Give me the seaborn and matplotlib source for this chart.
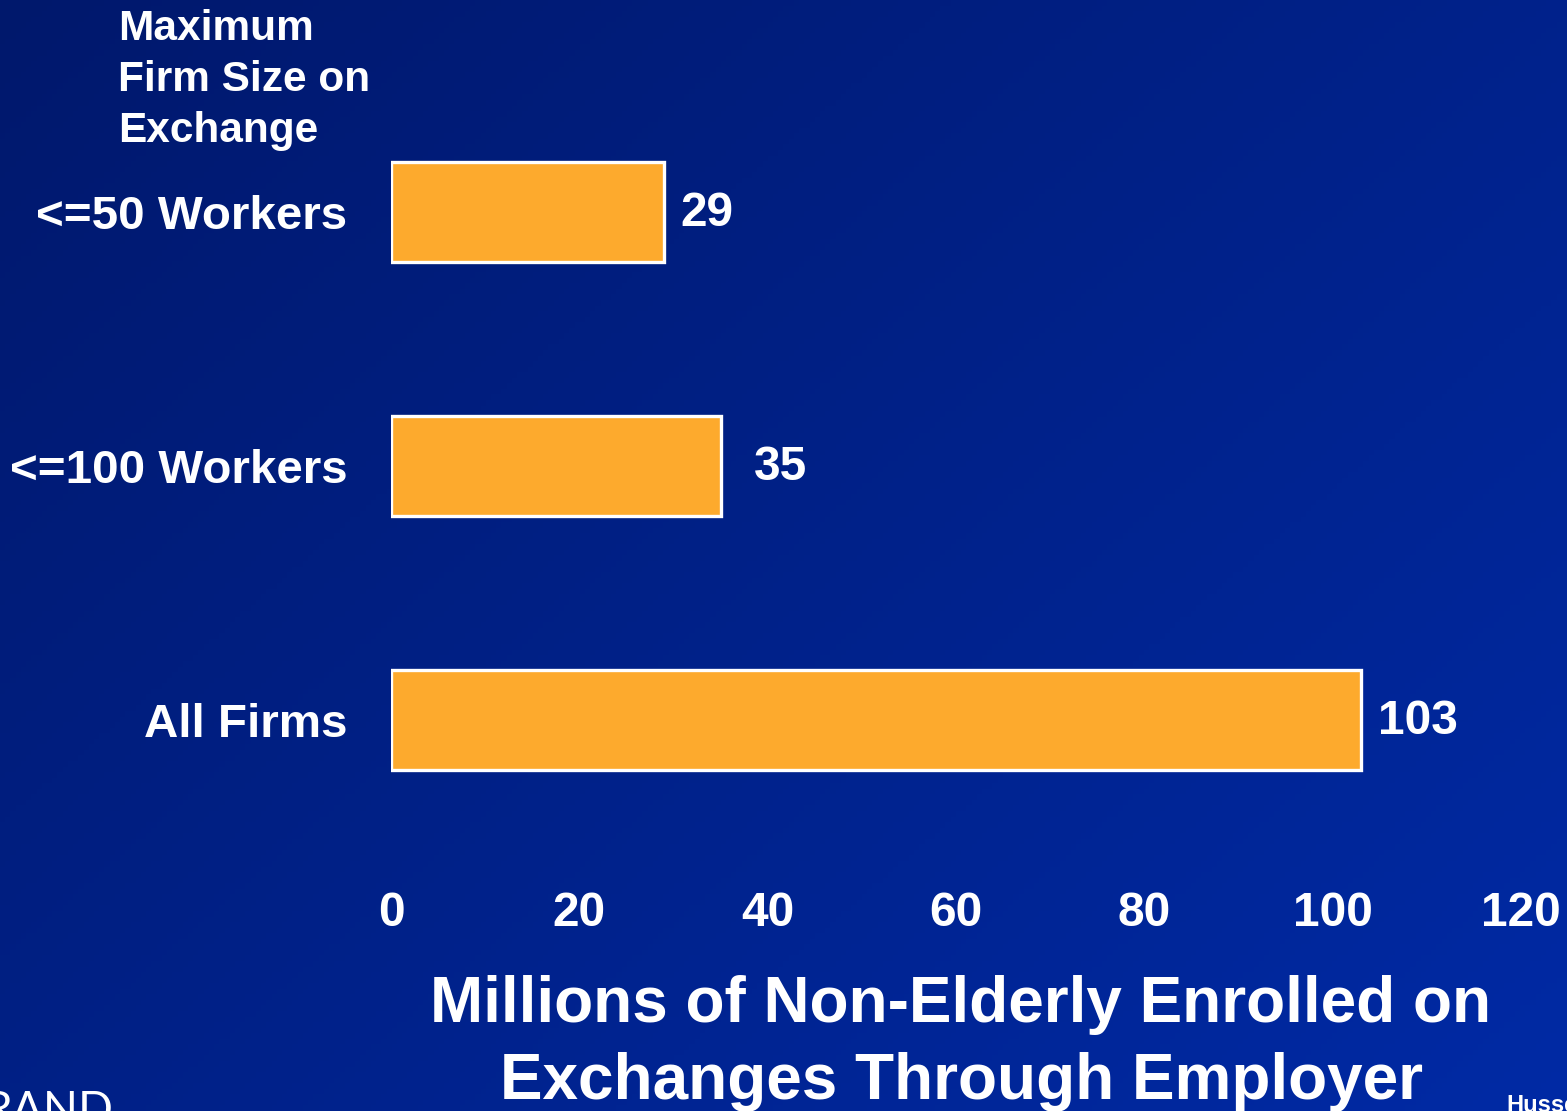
import numpy as np
import pandas as pd
import matplotlib
matplotlib.use("Agg")
import matplotlib.pyplot as plt
import seaborn as sns

categories = ["<=50 Workers", "<=100 Workers", "All Firms"]
enrolled = [29, 35, 103]
x_ticks = [0, 20, 40, 60, 80, 100, 120]

df = pd.DataFrame({"category": categories, "enrolled": enrolled})

sns.set_theme(style="white")
plt.rcParams["font.family"] = ["Liberation Sans", "DejaVu Sans"]

W, H = 1567, 1111
fig = plt.figure(figsize=(W / 100, H / 100), dpi=100)

# diagonal navy-to-blue backdrop
bg = fig.add_axes([0, 0, 1, 1], zorder=-10)
yy, xx = np.mgrid[0:1:200j, 0:1:300j]
t = np.clip(0.55 * xx + 0.45 * yy, 0, 1)
c0 = np.array([0, 24, 108]) / 255
c1 = np.array([0, 42, 165]) / 255
img = c0[None, None, :] * (1 - t[..., None]) + c1[None, None, :] * t[..., None]
bg.imshow(img, aspect="auto", extent=[0, 1, 0, 1], origin="upper")
bg.set_axis_off()

ax = fig.add_axes([391 / W, 1 - 847 / H, (1521 - 391) / W, (847 - 85) / H])
ax.patch.set_alpha(0)
sns.barplot(data=df, x="enrolled", y="category", orient="h", color="#FDAA2D",
            edgecolor="white", linewidth=2.4, width=0.394, saturation=1, ax=ax)
ax.set_xlim(0, 120)
ax.set_ylim(2.5, -0.5)
ax.set_xticks(x_ticks)
ax.set_xticklabels([str(v) for v in x_ticks], fontsize=34.5, fontweight="bold", color="white")
ax.tick_params(axis="x", pad=32, length=0)
ax.tick_params(axis="y", pad=31.5, length=0)
for lbl in ax.get_yticklabels():
    lbl.set_fontsize(34.2)
    lbl.set_fontweight("bold")
    lbl.set_color("white")
ax.set_ylabel("")
ax.set_xlabel("Millions of Non-Elderly Enrolled on\nExchanges Through Employer",
              fontsize=46, fontweight="bold", color="white", labelpad=28,
              linespacing=1.36)
ax.xaxis.label.set_x(0.5 + 5 / 1130)
for s in ax.spines.values():
    s.set_visible(False)

offsets = [12, 24, 12]
for bar, val, off in zip(ax.patches, enrolled, offsets):
    ax.annotate(f"{val}", xy=(bar.get_width(), bar.get_y() + bar.get_height() / 2),
                xytext=(off, -1.2), textcoords="offset points", ha="left", va="center",
                fontsize=34.5, fontweight="bold", color="white")

fig.text(118 / W, 1 - 9 / H, "Maximum\nFirm Size on\nExchange", ha="left", va="top",
         fontsize=30.5, fontweight="bold", color="white", linespacing=1.36)

fig.text(-16 / W, 1 - 1124 / H, "RAND", ha="left", va="baseline", fontsize=33,
         color="white", family=["Lato", "DejaVu Sans"])
fig.text(1506 / W, 1 - 1112 / H, "Hussey", ha="left", va="baseline", fontsize=17,
         fontweight="bold", color="white")

fig.savefig("out.png", dpi=100)
